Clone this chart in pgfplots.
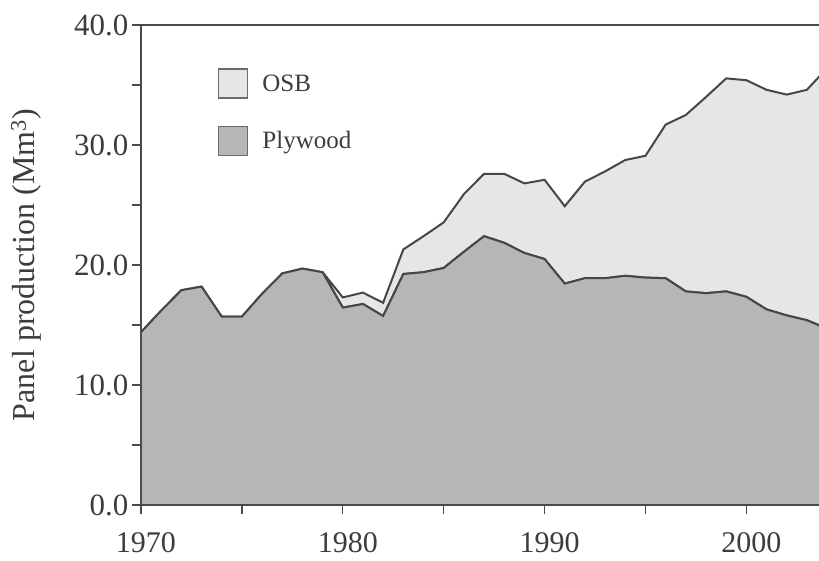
\documentclass[border=0pt]{standalone}
\usepackage{pgfplots}
\pgfplotsset{compat=1.18}
\usepackage{pgfplotstable}
\usepackage{fontspec}
\setmainfont{Liberation Serif}
\definecolor{plyfill}{RGB}{182,182,182}
\definecolor{osbfill}{RGB}{230,230,230}
\definecolor{linec}{RGB}{70,70,70}
\definecolor{axisc}{RGB}{75,75,75}
\definecolor{textc}{RGB}{60,60,60}

\pgfplotstableread{
year plywood osb
1970 14.4 0
1971 16.2 0
1972 17.9 0
1973 18.2 0
1974 15.7 0
1975 15.7 0
1976 17.6 0
1977 19.3 0
1978 19.7 0
1979 19.4 0
1980 16.45 0.85
1981 16.75 0.95
1982 15.75 1.1
1983 19.25 2.05
1984 19.4 3.0
1985 19.75 3.8
1986 21.1 4.8
1987 22.4 5.2
1988 21.85 5.75
1989 21.0 5.8
1990 20.5 6.6
1991 18.45 6.45
1992 18.9 8.05
1993 18.9 8.9
1994 19.1 9.65
1995 18.95 10.15
1996 18.9 12.8
1997 17.8 14.7
1998 17.65 16.35
1999 17.8 17.75
2000 17.35 18.05
2001 16.3 18.3
2002 15.8 18.4
2003 15.4 19.2
2004 14.7 21.7
}\paneldata

\begin{document}
\begin{tikzpicture}
\begin{axis}[
  name=ax,
  scale only axis,
  width=678pt, height=480pt,
  xmin=1970, xmax=2003.6,
  ymin=0, ymax=40,
  axis line style={draw=none},
  xtick pos=bottom, ytick pos=left,
  xtick={1970,1980,1990,2000},
  minor xtick={1975,1985,1995},
  ytick={0,10,20,30,40},
  minor ytick={5,15,25,35},
  tick align=outside,
  major tick length=9pt, minor tick length=9pt,
  tick style={line width=1.3pt, color=axisc},
  /pgf/number format/assume math mode=true,
  xticklabel style={/pgf/number format/1000 sep={}, font=\fontsize{30}{36}\selectfont, text=textc, xshift=5pt, yshift=-15pt},
  yticklabel style={/pgf/number format/.cd, fixed, fixed zerofill, precision=1, /tikz/.cd, font=\fontsize{31}{36}\selectfont, text=textc},
  ylabel={Panel production (Mm\textsuperscript{3})},
  ylabel style={font=\fontsize{32}{36}\selectfont, text=textc, at={(axis description cs:-0.146,0.5)}, anchor=south, inner sep=0pt},
  stack plots=y,
  reverse legend,
  legend style={draw=none, fill=none, at={(axis description cs:0.1136,0.91)}, anchor=north west,
    font=\fontsize{25}{30}\selectfont, text=textc, inner sep=0pt, row sep=27pt,
    cells={anchor=west},
    /tikz/every odd column/.append style={column sep=12pt}},
  legend image code/.code={\draw[#1, draw=linec!80, line width=1.2pt] (0pt,-14.5pt) rectangle (29pt,14.5pt);},
]
\addplot[fill=plyfill, draw=linec, line width=2pt] table[x=year, y=plywood]{\paneldata} \closedcycle;
\addlegendentry{Plywood}
\addplot[fill=osbfill, draw=linec, line width=2pt] table[x=year, y=osb]{\paneldata} \closedcycle;
\addlegendentry{OSB}
\end{axis}
\draw[line width=2.8pt, axisc, line cap=rect] (ax.north east) -- (ax.north west) -- (ax.south west) -- (ax.south east);
\pgfresetboundingbox
\path[use as bounding box] (-141pt,-55pt) rectangle (678pt,505pt);
\end{tikzpicture}
\end{document}
